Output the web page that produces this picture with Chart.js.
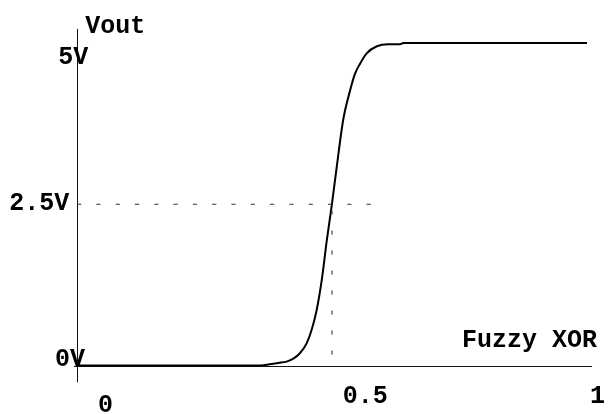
<!DOCTYPE html>
<html>
<head>
<meta charset="utf-8">
<script src="https://cdn.jsdelivr.net/npm/chart.js@4"></script>
<style>
html,body{margin:0;padding:0;background:#fff;}
#wrap{width:610px;height:414px;position:relative;}
</style>
</head>
<body>
<div id="wrap"><canvas id="c"></canvas></div>
<script>
// Fuzzy XOR input (0..1) vs output voltage (V)
const xs = [0, 0.30, 0.36, 0.378, 0.395, 0.411, 0.425, 0.437, 0.450, 0.460, 0.470, 0.480, 0.490, 0.500, 0.508, 0.522, 0.535, 0.545, 0.555, 0.568, 0.588, 0.61, 0.633, 0.64, 1.0];
const ys = [0, 0, 0, 0.02, 0.04, 0.06, 0.11, 0.19, 0.34, 0.55, 0.86, 1.33, 1.95, 2.51, 3.0, 3.81, 4.25, 4.52, 4.68, 4.84, 4.95, 4.98, 4.98, 5.0, 5.0];
// guide lines at the 2.5V crossing
const guideHX = [0, 0.578];
const guideHY = [2.5, 2.5];
const guideVX = [0.5, 0.5];
const guideVY = [0.17, 2.5];
// text labels and their anchor (data coordinates)
const labelTexts = ["Vout", "5V", "2.5V", "0V", "0", "0.5", "1", "Fuzzy XOR"];
const labelX = [0.016, -0.037, -0.133, -0.043, 0.041, 0.521, 1.006, 0.755];
const labelY = [5.16, 4.67, 2.41, -0.01, -0.72, -0.58, -0.58, 0.29];

const toPts = (a, b) => a.map((v, i) => ({x: v, y: b[i]}));

const axesPlugin = {
  id: 'axesAndLabels',
  beforeDatasetsDraw(chart) {
    const {ctx, scales: {x, y}} = chart;
    ctx.save();
    ctx.strokeStyle = '#111';
    ctx.lineWidth = 1;
    ctx.beginPath();
    const x0 = Math.round(x.getPixelForValue(0)) + 0.5;
    ctx.moveTo(x0, y.getPixelForValue(-0.26));
    ctx.lineTo(x0, y.getPixelForValue(5.22));
    const y0 = Math.round(y.getPixelForValue(0)) + 0.5;
    ctx.moveTo(x.getPixelForValue(-0.006), y0);
    ctx.lineTo(x.getPixelForValue(1.01), y0);
    ctx.stroke();
    ctx.restore();
  },
  afterDatasetsDraw(chart) {
    const {ctx, scales: {x, y}} = chart;
    ctx.save();
    ctx.fillStyle = '#000';
    ctx.font = 'bold 25px "Liberation Mono", monospace';
    ctx.textAlign = 'left';
    ctx.textBaseline = 'alphabetic';
    labelTexts.forEach((t, i) => {
      ctx.fillText(t, x.getPixelForValue(labelX[i]), y.getPixelForValue(labelY[i]));
    });
    ctx.restore();
  }
};

new Chart(document.getElementById('c'), {
  type: 'line',
  data: {
    datasets: [
      {
        data: toPts(guideHX, guideHY),
        borderColor: '#333', borderWidth: 1, borderDash: [4.3, 15],
        pointRadius: 0, fill: false, clip: false
      },
      {
        data: toPts(guideVX, guideVY),
        borderColor: '#444', borderWidth: 1.2, borderDash: [4, 16],
        pointRadius: 0, fill: false, clip: false
      },
      {
        data: toPts(xs, ys),
        borderColor: '#000', borderWidth: 2,
        cubicInterpolationMode: 'monotone',
        pointRadius: 0, fill: false, clip: false
      }
    ]
  },
  options: {
    responsive: true,
    maintainAspectRatio: false,
    devicePixelRatio: 1,
    animation: false,
    layout: {padding: {left: 77, right: 23, top: 43, bottom: 48.5}},
    plugins: {legend: {display: false}, tooltip: {enabled: false}},
    scales: {
      x: {type: 'linear', min: 0, max: 1, display: false},
      y: {type: 'linear', min: 0, max: 5, display: false}
    }
  },
  plugins: [axesPlugin]
});
</script>
</body>
</html>
